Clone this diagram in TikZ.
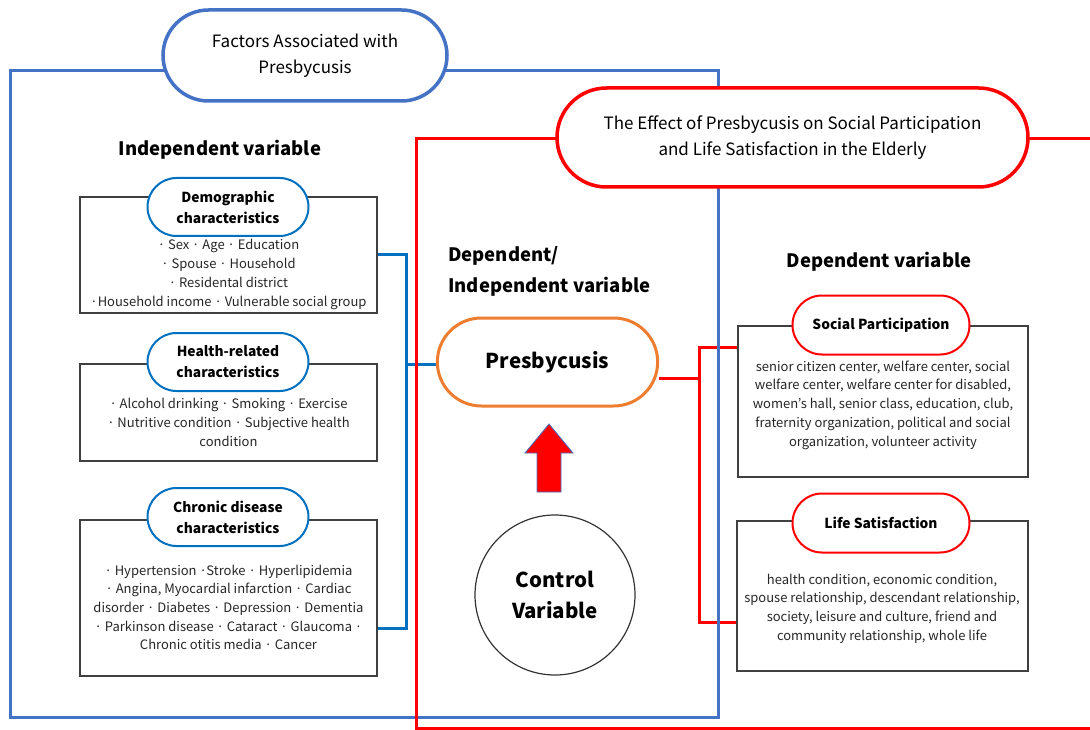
\documentclass[tikz,border=0pt]{standalone}
\usepackage{fontspec}
\setmainfont{Noto Sans CJK KR}
\usetikzlibrary{positioning,shapes.misc,backgrounds}
\definecolor{frameBlue}{RGB}{68,114,196}
\definecolor{linkBlue}{RGB}{0,112,192}
\definecolor{presOrange}{RGB}{237,125,49}
\definecolor{boxGray}{RGB}{64,64,64}

\begin{document}
\begin{tikzpicture}[x=1pt, y=-1pt,
    frame/.style={line width=3pt},
    link/.style={line width=3pt},
    titlepill/.style={rounded rectangle, draw, fill=white, line width=3.5pt, inner sep=0pt, font=\fontsize{17}{26}\selectfont, align=center},
    subpill/.style={rounded rectangle, draw=linkBlue, fill=white, line width=2pt, minimum width=161, minimum height=58, inner sep=0pt, font=\fontsize{13.8}{21}\selectfont\bfseries, align=center},
    itembox/.style={draw=boxGray, line width=1.2pt, inner sep=0pt},
    itemtxt/.style={font=\fontsize{13}{18.7}\selectfont, align=center, text=black!85, inner sep=0pt},
    head/.style={font=\fontsize{18.5}{31}\selectfont\bfseries, inner sep=0pt},
]
\useasboundingbox (0,0) rectangle (1090,730);

% Title pills
\node[titlepill, draw=frameBlue, minimum width=284, minimum height=91] (factT) at (305,55.5) {Factors Associated with\\Presbycusis};
\node[titlepill, draw=red, minimum width=471, minimum height=99] (effT) at (792.5,137.5) {The Effect of Presbycusis on Social Participation\\and Life Satisfaction in the Elderly};

% Independent variables
\node[head] (indep) at (220,150) {Independent variable};

\node[itembox, minimum width=297, minimum height=116] (demo) at (228.5,255) {};
\node[itemtxt] (demoTxt) at (228.5,274.5) {· Sex · Age · Education\\· Spouse · Household\\· Residental district\\·Household income · Vulnerable social group};
\node[subpill] (demoP) at (228,207) {Demographic\\characteristics};

\node[itembox, minimum width=297, minimum height=97] (health) at (228.5,412.5) {};
\node[itemtxt] (healthTxt) at (228.5,422.5) {· Alcohol drinking · Smoking · Exercise\\· Nutritive condition · Subjective health\\condition};
\node[subpill] (healthP) at (228,362) {Health-related\\characteristics};

\node[itembox, minimum width=297, minimum height=156] (chron) at (228.5,598) {};
\node[itemtxt] (chronTxt) at (228.5,607.5) {· Hypertension ·Stroke · Hyperlipidemia\\· Angina, Myocardial infarction · Cardiac\\disorder · Diabetes · Depression · Dementia\\· Parkinson disease · Cataract · Glaucoma ·\\Chronic otitis media · Cancer};
\node[subpill] (chronP) at (228,517) {Chronic disease\\characteristics};

% Middle column
\node[head, anchor=west, align=left] (depind) at (448,271.5) {Dependent/\\Independent variable};
\node[rounded rectangle, draw=presOrange, fill=white, line width=3pt, minimum width=227, minimum height=88, font=\fontsize{20.5}{26}\selectfont\bfseries] (presb) at (547.5,362) {Presbycusis};
\draw[fill=red, draw=frameBlue, line width=0.8pt] (549,424) -- (573,453) -- (561,453) -- (561,492) -- (537,492) -- (537,453) -- (525,453) -- cycle;
\node[circle, draw=black!80, line width=1.2pt, minimum size=160, align=center, font=\fontsize{20.5}{31}\selectfont\bfseries] (ctrl) at (555,595) {Control\\Variable};

% Dependent variables
\node[head] (dep) at (879,262) {Dependent variable};

\node[itembox, minimum width=290, minimum height=151] (social) at (883,401.5) {};
\node[itemtxt] (socialTxt) at (883,405) {senior citizen center, welfare center, social\\welfare center, welfare center for disabled,\\women’s hall, senior class, education, club,\\fraternity organization, political and social\\organization, volunteer activity};
\node[subpill, draw=red, minimum width=177, minimum height=59] (socialP) at (881,325) {Social Participation};

\node[itembox, minimum width=291, minimum height=150] (life) at (882.5,596) {};
\node[itemtxt] (lifeTxt) at (882,608.5) {health condition, economic condition,\\spouse relationship, descendant relationship,\\society, leisure and culture, friend and\\community relationship, whole life};
\node[subpill, draw=red, minimum width=177, minimum height=59] (lifeP) at (881,523) {Life Satisfaction};

\coordinate (brk) at (406,364);
\coordinate (rbrk) at (699,378);

\begin{scope}[on background layer]
% connectors
\draw[link, linkBlue] (demo.east) -| (brk);
\draw[link, linkBlue] ([yshift=-30pt]chron.east) -| (brk);
\draw[link, linkBlue] (brk) -- (brk -| presb.west);
\draw[link, red] ([yshift=-16pt]presb.east) -- (rbrk);
\draw[link, red] ([yshift=54.5pt]social.west) -| (rbrk);
\draw[link, red] ([yshift=-26pt]life.west) -| (rbrk);
% frames
\draw[frame, frameBlue] (10,71) rectangle (718,717);
\draw[frame, red] (416,139) rectangle (1100,728);
\end{scope}
\end{tikzpicture}
\end{document}
